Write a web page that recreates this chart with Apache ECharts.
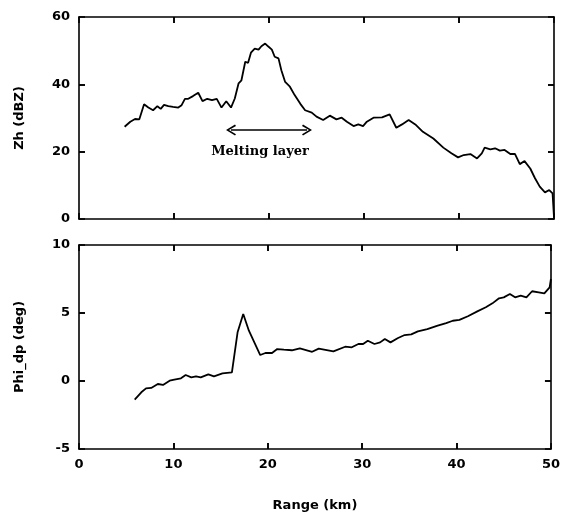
<!DOCTYPE html>
<html>
<head>
<meta charset="utf-8">
<script src="https://cdn.jsdelivr.net/npm/echarts@6/dist/echarts.min.js"></script>
<style>
  html, body { margin: 0; padding: 0; background: #fff; }
  #main { width: 563px; height: 514px; }
</style>
</head>
<body>
<div id="main"></div>
<script>
// reflectivity profile (top panel)
const rangeZh = [4.8, 5.4, 5.9, 6.35, 6.85, 7.3, 7.8, 8.25, 8.6, 8.95, 9.4, 9.9, 10.45, 10.8, 11.15, 11.5, 12.0, 12.55, 13.0, 13.5,
  14.0, 14.5, 15.0, 15.5, 16.0, 16.4, 16.8, 17.1, 17.5, 17.8, 18.1, 18.5, 18.9, 19.2, 19.6, 19.9, 20.3, 20.6, 21.0, 21.3,
  21.7, 22.2, 22.7, 23.3, 23.8, 24.5, 25.0, 25.7, 26.4, 27.1, 27.65, 28.2, 28.9, 29.4, 29.9, 30.3, 31.0, 31.9, 32.7, 33.4,
  34.0, 34.7, 35.4, 36.2, 37.3, 38.35, 39.2, 39.9, 40.5, 41.2, 41.9, 42.4, 42.7, 43.3, 43.8, 44.3, 44.8, 45.4, 45.9, 46.4,
  46.9, 47.5, 48.0, 48.5, 49.05, 49.5, 49.85, 50.0];
const zh = [27.4, 28.9, 29.7, 29.6, 34.1, 33.1, 32.3, 33.5, 32.7, 33.9, 33.5, 33.3, 33.1, 33.8, 35.7, 35.7, 36.5, 37.5, 35.0, 35.7,
  35.3, 35.7, 33.1, 35.0, 33.1, 35.8, 40.3, 41.2, 46.7, 46.4, 49.4, 50.6, 50.3, 51.3, 52.1, 51.3, 50.3, 48.2, 47.7, 44.2,
  40.7, 39.3, 36.8, 34.2, 32.3, 31.6, 30.4, 29.4, 30.7, 29.6, 30.1, 28.9, 27.6, 28.1, 27.6, 28.9, 30.1, 30.2, 31.1, 27.1,
  28.1, 29.4, 28.1, 25.9, 23.9, 21.2, 19.5, 18.3, 19.0, 19.3, 18.0, 19.5, 21.2, 20.7, 21.0, 20.3, 20.5, 19.3, 19.3, 16.3,
  17.2, 15.0, 12.1, 9.6, 7.9, 8.6, 7.6, 0.5];

// differential phase profile (bottom panel)
const rangePhi = [5.9, 6.6, 7.1, 7.65, 8.35, 8.9, 9.6, 10.1, 10.8, 11.3, 11.9, 12.4, 12.9, 13.7, 14.3, 15.2, 16.2, 16.8, 17.4, 18.0,
  19.2, 19.75, 20.45, 21.0, 21.7, 22.55, 23.4, 24.7, 25.4, 26.95, 28.2, 28.9, 29.6, 30.1, 30.6, 31.3, 31.9, 32.4, 33.0, 33.8,
  34.5, 35.2, 35.9, 36.9, 38.0, 38.9, 39.6, 40.3, 41.2, 42.2, 43.1, 43.8, 44.5, 45.0, 45.65, 46.2, 46.8, 47.4, 48.0, 48.7,
  49.3, 49.86, 50.0];
const phi = [-1.37, -0.83, -0.54, -0.51, -0.22, -0.29, 0.02, 0.1, 0.2, 0.44, 0.27, 0.34, 0.27, 0.49, 0.34, 0.56, 0.64, 3.58, 4.93, 3.7,
  1.91, 2.06, 2.06, 2.35, 2.3, 2.26, 2.4, 2.15, 2.38, 2.18, 2.52, 2.48, 2.72, 2.72, 2.96, 2.72, 2.84, 3.09, 2.84, 3.16,
  3.38, 3.43, 3.65, 3.82, 4.07, 4.26, 4.43, 4.49, 4.76, 5.12, 5.42, 5.71, 6.08, 6.15, 6.4, 6.15, 6.27, 6.15, 6.6, 6.52,
  6.45, 6.89, 7.5];

// axis ranges and inner tick values
const rangeTicks = [10, 20, 30, 40];
const zhTicks = [20, 40];
const phiTicks = [0, 5];

// melting layer annotation (km, dBZ)
const meltStart = [16.0, 26.4];
const meltEnd = [24.0, 26.4];
const meltLabel = 'Melting layer';

const font = 'DejaVu Sans, sans-serif';

function axis(grid, pos, min, max, step, showLabel, name) {
  const a = {
    type: 'value', gridIndex: grid, position: pos, min: min, max: max, interval: step,
    axisLine: { show: true, onZero: false, lineStyle: { color: '#000', width: 1.6 } },
    axisTick: { show: true, inside: true, length: 6, lineStyle: { color: '#000', width: 1.6 } },
    splitLine: { show: false },
    axisLabel: { show: showLabel, color: '#000', fontFamily: font, fontWeight: 'bold', fontSize: 13, margin: 9 }
  };
  if (name) {
    a.name = name;
    a.nameLocation = 'middle';
    a.nameTextStyle = { color: '#000', fontFamily: font, fontWeight: 'bold', fontSize: 13 };
    if (pos === 'left') { a.nameRotate = 90; a.nameGap = 53; } else { a.nameGap = 50; }
  }
  return a;
}

const chart = echarts.init(document.getElementById('main'));

const zhData = rangeZh.map((r, i) => [r, zh[i]]);
const phiData = rangePhi.map((r, i) => [r, phi[i]]);
const chevron = 'path://M5,0 L10,9 L8.8,10 L5,3 L1.2,10 L0,9 Z';

chart.setOption({
  animation: false,
  grid: [
    { left: 79, top: 17, width: 475, height: 202 },
    { left: 79, top: 245, width: 475, height: 204 }
  ],
  xAxis: [
    axis(0, 'bottom', 0, 50, 10, false),
    axis(0, 'top', 0, 50, 10, false),
    axis(1, 'bottom', 0, 50, 10, true, 'Range (km)'),
    axis(1, 'top', 0, 50, 10, false)
  ],
  yAxis: [
    axis(0, 'left', 0, 60, 20, true, 'Zh (dBZ)'),
    axis(0, 'right', 0, 60, 20, false),
    axis(1, 'left', -5, 10, 5, true, 'Phi_dp (deg)'),
    axis(1, 'right', -5, 10, 5, false)
  ],
  series: [
    {
      type: 'line', xAxisIndex: 0, yAxisIndex: 0, data: zhData,
      showSymbol: false, symbol: 'none',
      lineStyle: { color: '#000', width: 1.8 },
      markLine: {
        silent: true,
        symbol: [chevron, chevron],
        symbolSize: [11, 10],
        lineStyle: { color: '#000', width: 1.6, type: 'solid' },
        label: {
          show: true, position: 'insideMiddleBottom', distance: 13, offset: [-9, 2],
          formatter: meltLabel, color: '#000',
          fontFamily: 'DejaVu Serif, serif', fontWeight: 'bold', fontSize: 13
        },
        data: [[{ coord: meltStart }, { coord: meltEnd }]]
      }
    },
    {
      type: 'line', xAxisIndex: 2, yAxisIndex: 2, data: phiData,
      showSymbol: false, symbol: 'none',
      lineStyle: { color: '#000', width: 1.8 }
    }
  ]
});

// inward frame ticks, sized 6px through the panels' own scales
function frameTicks(seriesIndex, xAxisIndex, yAxisIndex, xMin, xMax, yMin, yMax, yTicks) {
  const p0 = chart.convertToPixel({ seriesIndex: seriesIndex }, [xMin, yMin]);
  const d = chart.convertFromPixel({ seriesIndex: seriesIndex }, [p0[0] + 6, p0[1] - 6]);
  const dx = d[0] - xMin, dy = d[1] - yMin;
  const lines = [];
  rangeTicks.forEach(function (t) {
    lines.push([{ coord: [t, yMin] }, { coord: [t, yMin + dy] }]);
    lines.push([{ coord: [t, yMax] }, { coord: [t, yMax - dy] }]);
  });
  yTicks.forEach(function (t) {
    lines.push([{ coord: [xMin, t] }, { coord: [xMin + dx, t] }]);
    lines.push([{ coord: [xMax, t] }, { coord: [xMax - dx, t] }]);
  });
  return {
    type: 'line', xAxisIndex: xAxisIndex, yAxisIndex: yAxisIndex, data: [], silent: true,
    markLine: {
      silent: true, symbol: ['none', 'none'], label: { show: false },
      lineStyle: { color: '#000', width: 1.6, type: 'solid' },
      data: lines
    }
  };
}

chart.setOption({
  series: [
    {}, {},
    frameTicks(0, 0, 0, 0, 50, 0, 60, zhTicks),
    frameTicks(1, 2, 2, 0, 50, -5, 10, phiTicks)
  ]
});
</script>
</body>
</html>
